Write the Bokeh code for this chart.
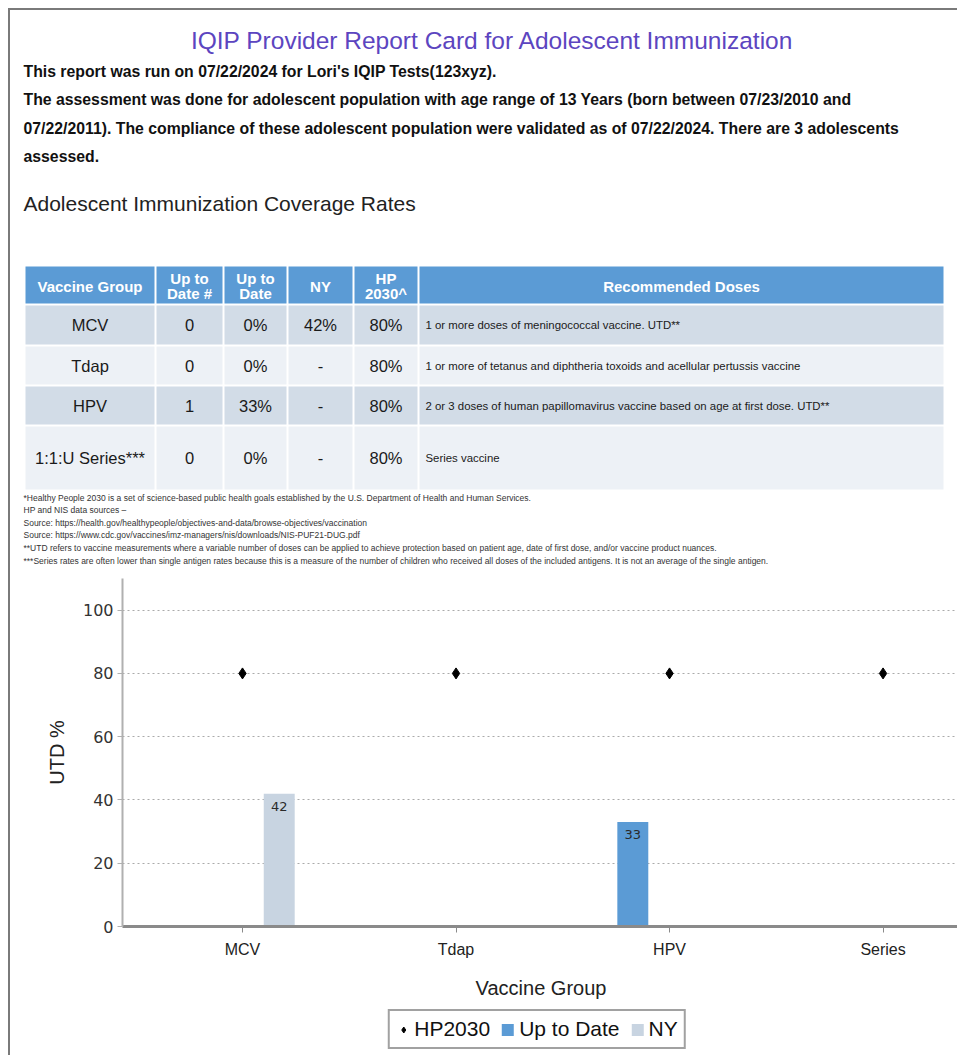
import numpy as np
from bokeh.plotting import figure
from bokeh.models import (Range1d, FixedTicker, ColumnDataSource, LabelSet,
                          Legend, LegendItem)
from bokeh.core.properties import value
from bokeh.embed import file_html
from bokeh.resources import INLINE

# ---------------- data ----------------
report_title = "IQIP Provider Report Card for Adolescent Immunization"
intro_lines = [
    "This report was run on 07/22/2024 for Lori's IQIP Tests(123xyz).",
    "The assessment was done for adolescent population with age range of 13 Years (born between 07/23/2010 and",
    "07/22/2011). The compliance of these adolescent population were validated as of 07/22/2024. There are 3 adolescents",
    "assessed.",
]
section_title = "Adolescent Immunization Coverage Rates"
table_headers = ["Vaccine Group", "Up to\nDate #", "Up to\nDate", "NY", "HP\n2030^", "Recommended Doses"]
table_groups = ["MCV", "Tdap", "HPV", "1:1:U Series***"]
utd_counts = [0, 0, 1, 0]
utd_rates = [0, 0, 33, 0]
ny_rates = [42, None, None, None]
hp2030_rates = [80, 80, 80, 80]
recommended = [
    "1 or more doses of meningococcal vaccine. UTD**",
    "1 or more of tetanus and diphtheria toxoids and acellular pertussis vaccine",
    "2 or 3 doses of human papillomavirus vaccine based on age at first dose. UTD**",
    "Series vaccine",
]
footnotes = [
    "*Healthy People 2030 is a set of science-based public health goals established by the U.S. Department of Health and Human Services.",
    "HP and NIS data sources \u2013",
    "Source: https://health.gov/healthypeople/objectives-and-data/browse-objectives/vaccination",
    "Source: https://www.cdc.gov/vaccines/imz-managers/nis/downloads/NIS-PUF21-DUG.pdf",
    "**UTD refers to vaccine measurements where a variable number of doses can be applied to achieve protection based on patient age, date of first dose, and/or vaccine product nuances.",
    "***Series rates are often lower than single antigen rates because this is a measure of the number of children who received all doses of the included antigens. It is not an average of the single antigen.",
]
chart_categories = ["MCV", "Tdap", "HPV", "Series"]
y_ticks = [0, 20, 40, 60, 80, 100]
legend_labels = ["HP2030", "Up to Date", "NY"]

# ---------------- styles ----------------
FONT = "Liberation Sans"
TITLE_COLOR = "#5c45c0"
HEAD_BLUE = "#5b9bd5"
ROW_DARK = "#d2dce7"
ROW_LIGHT = "#edf1f6"
UTD_COLOR = "#5b9bd5"
NY_COLOR = "#c8d4e1"
FRAME = "2px solid #7a7a7a"

W = 949
HH = 565
CH = 430
LH = 52

# ---------------- header figure (text + table) ----------------
hdr = figure(width=W, height=HH, x_range=Range1d(0, W), y_range=Range1d(HH, 0),
             output_backend="svg", toolbar_location=None, min_border=0,
             x_axis_location=None, y_axis_location=None,
             styles={"margin-left": "8px", "margin-top": "8px",
                     "border-left": FRAME, "border-top": FRAME})
hdr.grid.visible = False
hdr.outline_line_color = None

hdr.text(x=[482], y=[30], text=[report_title], text_font=value(FONT),
         text_font_size="24.5px", text_color=TITLE_COLOR,
         text_align="center", text_baseline="middle")

hdr.text(x=[13] * len(intro_lines), y=[61 + 28.4 * i for i in range(len(intro_lines))],
         text=intro_lines, text_font=value(FONT), text_font_size="15.8px",
         text_font_style="bold", text_color="#111111", text_baseline="middle")

hdr.text(x=[13], y=[193], text=[section_title], text_font=value(FONT),
         text_font_size="21px", text_color="#222222", text_baseline="middle")

col_edges = [14, 145, 213, 277, 343, 408, 934]
row_edges = [255, 294, 335, 375, 415, 480]
row_fills = [HEAD_BLUE, ROW_DARK, ROW_LIGHT, ROW_DARK, ROW_LIGHT]

ql, qr, qt, qb, qc = [], [], [], [], []
for r in range(len(row_edges) - 1):
    for c in range(len(col_edges) - 1):
        ql.append(col_edges[c] + 1)
        qr.append(col_edges[c + 1] - 1)
        qt.append(row_edges[r] + 1)
        qb.append(row_edges[r + 1] - 1)
        qc.append(row_fills[r])
hdr.quad(left=ql, right=qr, top=qt, bottom=qb, fill_color=qc, line_color=None)

# header cells
hx, hy, ht = [], [], []
for c, h in enumerate(table_headers):
    hx.append((col_edges[c] + col_edges[c + 1]) / 2)
    hy.append((row_edges[0] + row_edges[1]) / 2 + 1)
    ht.append(h)
hdr.text(x=hx, y=hy, text=ht, text_font=value(FONT), text_font_size="15px",
         text_font_style="bold", text_color="white", text_align="center",
         text_baseline="middle", text_line_height=0.9)

# body cells
cx, cy, ct = [], [], []
for i in range(len(table_groups)):
    ymid = (row_edges[i + 1] + row_edges[i + 2]) / 2
    vals = [table_groups[i], str(utd_counts[i]), f"{utd_rates[i]}%",
            "-" if ny_rates[i] is None else f"{ny_rates[i]}%", f"{hp2030_rates[i]}%"]
    for c, v in enumerate(vals):
        cx.append((col_edges[c] + col_edges[c + 1]) / 2)
        cy.append(ymid)
        ct.append(v)
hdr.text(x=cx, y=cy, text=ct, text_font=value(FONT), text_font_size="16.5px",
         text_color="#1a1a1a", text_align="center", text_baseline="middle")

rx = [col_edges[5] + 7] * len(recommended)
ry = [(row_edges[i + 1] + row_edges[i + 2]) / 2 for i in range(len(recommended))]
hdr.text(x=rx, y=ry, text=recommended, text_font=value(FONT), text_font_size="11.4px",
         text_color="#1a1a1a", text_align="left", text_baseline="middle")

hdr.text(x=[13] * len(footnotes), y=[487 + 12.6 * i for i in range(len(footnotes))],
         text=footnotes, text_font=value(FONT), text_font_size="8.5px",
         text_color="#333333", text_baseline="middle")

# ---------------- chart ----------------
x_pos = np.arange(len(chart_categories)) + 0.5
ny_vals = [0 if v is None else v for v in ny_rates]

p = figure(width=W, height=CH, x_range=Range1d(-0.062, 3.858), y_range=Range1d(0, 110),
           output_backend="svg", toolbar_location=None,
           min_border_left=112, min_border_right=0, min_border_top=5, min_border_bottom=77,
           styles={"margin-left": "8px", "border-left": FRAME})
p.outline_line_color = None

bar_src = ColumnDataSource(dict(x_utd=x_pos - 0.172, x_ny=x_pos + 0.172,
                                utd=utd_rates, ny=ny_vals, x_hp=x_pos, hp=hp2030_rates))
p.vbar(x="x_utd", top="utd", width=0.145, source=bar_src,
       fill_color=UTD_COLOR, line_color=None)
p.vbar(x="x_ny", top="ny", width=0.145, source=bar_src,
       fill_color=NY_COLOR, line_color=None)
p.scatter(x="x_hp", y="hp", source=bar_src, marker="diamond", size=11,
          fill_color="black", line_color="black")

lab_x, lab_y, lab_t = [], [], []
for i in range(len(chart_categories)):
    if utd_rates[i] > 0:
        lab_x.append(x_pos[i] - 0.172); lab_y.append(utd_rates[i]); lab_t.append(str(utd_rates[i]))
    if ny_vals[i] > 0:
        lab_x.append(x_pos[i] + 0.172); lab_y.append(ny_vals[i]); lab_t.append(str(ny_vals[i]))
lab_src = ColumnDataSource(dict(x=lab_x, y=lab_y, t=lab_t))
p.add_layout(LabelSet(x="x", y="y", text="t", source=lab_src, y_offset=-8,
                      text_align="center", text_baseline="top",
                      text_font=value("DejaVu Sans"), text_font_size="13px",
                      text_color="#2a2a2a"))

p.xgrid.visible = False
p.ygrid.grid_line_color = "#aaaaaa"
p.ygrid.grid_line_dash = "2 3"
p.ygrid.grid_line_width = 1.2

p.xaxis.ticker = FixedTicker(ticks=list(x_pos))
p.xaxis.major_label_overrides = {float(x): c for x, c in zip(x_pos, chart_categories)}
p.xaxis.minor_tick_line_color = None
p.xaxis.axis_line_color = "#8a8a8a"
p.xaxis.axis_line_width = 3
p.xaxis.major_tick_line_color = "#8a8a8a"
p.xaxis.major_tick_out = 6
p.xaxis.major_tick_in = 0
p.xaxis.major_label_text_font = FONT
p.xaxis.major_label_text_font_size = "16px"
p.xaxis.major_label_text_color = "#222222"
p.xaxis.major_label_standoff = 8
p.xaxis.axis_label = "Vaccine Group"
p.xaxis.axis_label_text_font = FONT
p.xaxis.axis_label_text_font_size = "20px"
p.xaxis.axis_label_text_font_style = "normal"
p.xaxis.axis_label_text_color = "#222222"
p.xaxis.axis_label_standoff = 16

p.yaxis.ticker = FixedTicker(ticks=y_ticks)
p.yaxis.minor_tick_line_color = None
p.yaxis.axis_line_color = "#b0b0b0"
p.yaxis.axis_line_width = 2
p.yaxis.major_tick_line_color = "#b0b0b0"
p.yaxis.major_tick_out = 5
p.yaxis.major_tick_in = 0
p.yaxis.major_label_text_font = "DejaVu Sans"
p.yaxis.major_label_text_font_size = "16px"
p.yaxis.major_label_text_color = "#333333"
p.yaxis.major_label_standoff = 4
p.yaxis.axis_label = "UTD %"
p.yaxis.axis_label_text_font = FONT
p.yaxis.axis_label_text_font_size = "20px"
p.yaxis.axis_label_text_font_style = "normal"
p.yaxis.axis_label_text_color = "#222222"
p.yaxis.axis_label_standoff = 12

# ---------------- legend strip (below the chart) ----------------
lg = figure(width=W, height=LH, x_range=Range1d(0, 1), y_range=Range1d(0, 1),
            output_backend="svg", toolbar_location=None, min_border=0,
            min_border_left=104, x_axis_location=None, y_axis_location=None,
            styles={"margin-left": "8px", "border-left": FRAME})
lg.grid.visible = False
lg.outline_line_color = None
# legend-only renderers (hidden), sharing the chart's data source
r_hp = lg.scatter(x="x_hp", y="hp", source=bar_src, marker="diamond", size=9,
                  fill_color="black", line_color="black", visible=False)
r_utd = lg.vbar(x="x_utd", top="utd", width=0.1, source=bar_src,
                fill_color=UTD_COLOR, line_color=None, visible=False)
r_ny = lg.vbar(x="x_ny", top="ny", width=0.1, source=bar_src,
               fill_color=NY_COLOR, line_color=None, visible=False)

legend = Legend(items=[LegendItem(label=legend_labels[0], renderers=[r_hp]),
                       LegendItem(label=legend_labels[1], renderers=[r_utd]),
                       LegendItem(label=legend_labels[2], renderers=[r_ny])],
                orientation="horizontal", location="center",
                border_line_color="#444444", border_line_width=2,
                label_text_font=FONT, label_text_font_size="21px",
                label_text_color="#111111",
                glyph_width=15, glyph_height=15, spacing=10, padding=6,
                label_standoff=4, margin=0, inactive_fill_alpha=0.0)
lg.add_layout(legend, "center")

open("out.html", "w").write(file_html([hdr, p, lg], INLINE))
